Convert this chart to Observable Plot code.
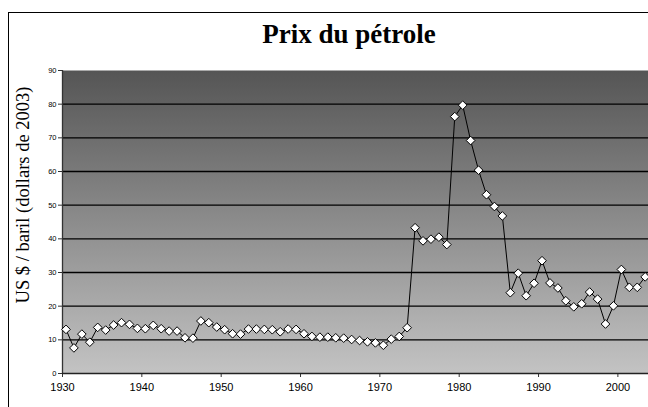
<!DOCTYPE html>
<html><head><meta charset="utf-8">
<script src="https://cdn.jsdelivr.net/npm/d3@7"></script>
<script src="https://cdn.jsdelivr.net/npm/@observablehq/plot@0.6"></script>
<style>
html,body{margin:0;padding:0;background:#fff;overflow:hidden}
#wrap{position:relative;width:648px;height:407px;overflow:hidden;background:#fff}
#border{position:absolute;left:8px;top:12px;width:720px;height:520px;border:1.5px solid #000;box-sizing:border-box}
#chart{position:absolute;left:0;top:0}
#title{position:absolute;left:0;width:698px;top:18px;text-align:center;font-family:"Liberation Serif","Times New Roman",serif;font-weight:bold;font-size:27px;line-height:32px;color:#000}
#ylabel{position:absolute;left:23px;top:195px;transform:translate(-50%,-50%) rotate(-90deg);white-space:nowrap;font-family:"Liberation Serif","Times New Roman",serif;font-size:18.5px;line-height:22px;color:#000}
</style>
</head><body>
<div id="wrap">
  <div id="border"></div>
  <div id="chart"></div>
  <div id="title">Prix du pétrole</div>
  <div id="ylabel">US $ / baril (dollars de 2003)</div>
</div>
<script>
const years = [1930,1931,1932,1933,1934,1935,1936,1937,1938,1939,
  1940,1941,1942,1943,1944,1945,1946,1947,1948,1949,
  1950,1951,1952,1953,1954,1955,1956,1957,1958,1959,
  1960,1961,1962,1963,1964,1965,1966,1967,1968,1969,
  1970,1971,1972,1973,1974,1975,1976,1977,1978,1979,
  1980,1981,1982,1983,1984,1985,1986,1987,1988,1989,
  1990,1991,1992,1993,1994,1995,1996,1997,1998,1999,
  2000,2001,2002,2003];
const prices = [13.1,7.6,11.7,9.3,13.7,12.9,14.4,15.1,14.6,13.4,
  13.3,14.3,13.3,12.6,12.6,10.6,10.5,15.6,15.1,13.8,
  13.0,11.8,11.7,13.2,13.2,13.1,13.0,12.4,13.2,13.1,
  11.8,11.0,10.8,10.8,10.6,10.5,10.1,9.8,9.4,9.1,
  8.4,10.2,11.0,13.6,43.3,39.4,39.9,40.5,38.3,76.3,
  79.7,69.2,60.4,53.1,49.6,46.8,24.0,29.8,23.1,26.8,
  33.5,26.9,25.4,21.6,19.8,20.7,24.2,22.1,14.7,20.1,
  30.9,25.6,25.6,28.7];
const xTicks = [1930,1940,1950,1960,1970,1980,1990,2000];
const yTicks = [0,10,20,30,40,50,60,70,80,90];
const gridValues = [10,20,30,40,50,60,70,80];

const data = years.map((y,i) => ({year: y, price: prices[i]}));
const off = 0.44; // points sit inside each year's slot

const chart = Plot.plot({
  width: 648, height: 407,
  marginLeft: 62, marginRight: 0, marginTop: 70, marginBottom: 34,
  style: {background: "transparent", fontFamily: "'Liberation Sans', Arial, sans-serif", color: "#000"},
  x: {domain: [1930, 2003.86], label: null},
  y: {domain: [0, 90], label: null},
  marks: [
    Plot.frame({fill: "url(#bgGrad)", stroke: null}),
    Plot.ruleY(gridValues, {stroke: "#000", strokeWidth: 1.3}),
    Plot.axisX({ticks: xTicks, tickFormat: d => String(d), tickSize: 4, tickPadding: 6, fontSize: 11, label: null, stroke: "#333"}),
    Plot.axisY({ticks: yTicks, tickSize: 4, tickPadding: 2, fontSize: 7.5, label: null, stroke: "#333"}),
    Plot.ruleX([1930], {stroke: "#333", strokeWidth: 1.3}),
    Plot.ruleY([0], {stroke: "#222", strokeWidth: 1.5}),
    Plot.line(data, {x: d => d.year + off, y: "price", stroke: "#000", strokeWidth: 1}),
    Plot.dot(data, {x: d => d.year + off, y: "price", symbol: "diamond2", r: 3.9, fill: "#fff", stroke: "#000", strokeWidth: 1})
  ]
});

const defs = d3.select(chart).insert("defs", ":first-child");
const g = defs.append("linearGradient").attr("id", "bgGrad")
  .attr("x1", 0).attr("y1", 0).attr("x2", 0).attr("y2", 1);
g.append("stop").attr("offset", "0%").attr("stop-color", "#555555");
g.append("stop").attr("offset", "100%").attr("stop-color", "#c3c3c3");

document.getElementById("chart").appendChild(chart);
</script>
</body></html>
